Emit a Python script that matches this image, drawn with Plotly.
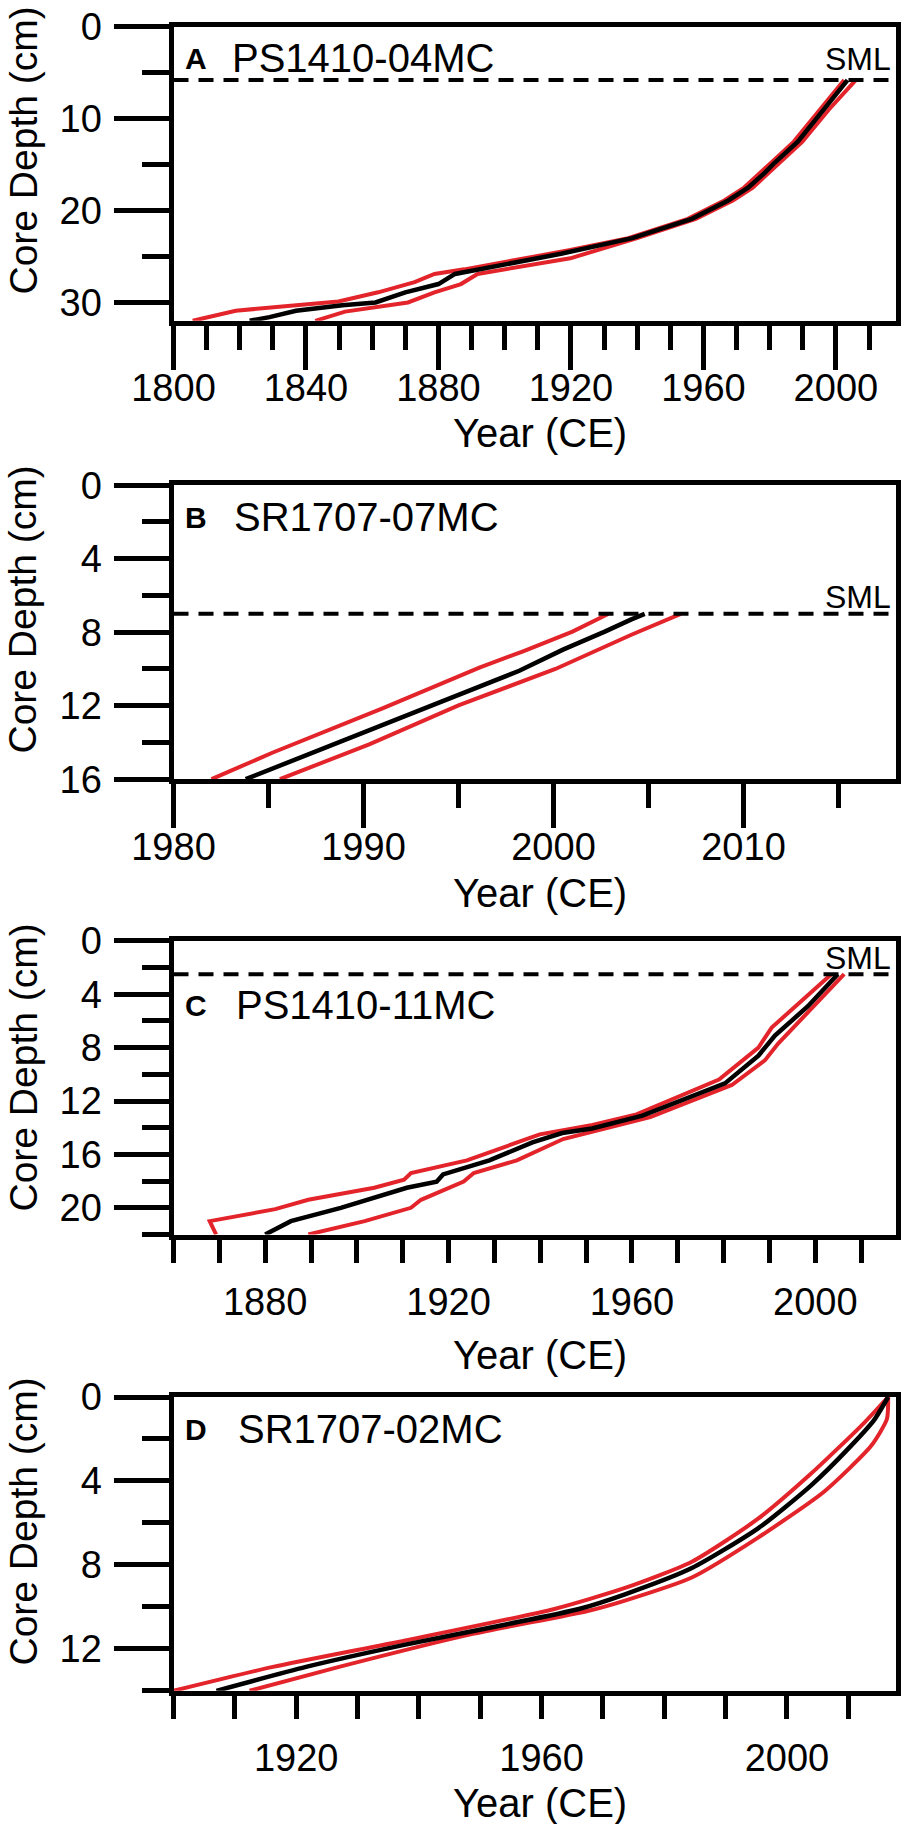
import plotly.graph_objects as go

W, H = 905, 1824

# ---------------- data (Year CE, depth cm) ----------------
A_MID_YEAR = [2003.5, 1996.5, 1988.5, 1981.5, 1978.5, 1973.5, 1967.5, 1956.5, 1938.5, 1917.0, 1895.0, 1885.0, 1880.0, 1870.0, 1861.0, 1851.0, 1837.0, 1829.0, 1823.0]
A_MID_DEPTH = [5.8, 9.0, 12.5, 14.8, 15.9, 17.5, 18.9, 20.9, 23.0, 24.7, 26.2, 26.9, 28.0, 28.9, 30.0, 30.3, 30.9, 31.6, 32.0]
A_LO_YEAR = [2002.5, 1995.3, 1987.3, 1979.8, 1972.3, 1966.3, 1955.3, 1937.3, 1919.8, 1887.8, 1878.8, 1872.8, 1861.8, 1849.8, 1818.8, 1805.8]
A_LO_DEPTH = [5.8, 9.0, 12.5, 15.0, 17.5, 18.9, 20.9, 23.0, 24.3, 26.4, 26.9, 27.8, 28.9, 29.9, 30.9, 32.0]
A_HI_YEAR = [2006.0, 1997.9, 1989.9, 1982.9, 1974.9, 1968.9, 1957.7, 1940.0, 1919.8, 1891.8, 1886.8, 1878.8, 1870.8, 1851.8, 1842.8]
A_HI_DEPTH = [5.8, 9.0, 12.5, 14.8, 17.5, 18.9, 20.9, 23.0, 25.2, 26.9, 28.0, 28.9, 30.0, 31.0, 32.0]

B_MID_YEAR = [2004.8, 2004.1, 2002.7, 2000.5, 1998.2, 1995.4, 1993.3, 1990.8, 1988.4, 1983.8]
B_MID_DEPTH = [7.0, 7.3, 7.97, 8.95, 10.1, 11.26, 12.07, 13.1, 14.1, 16.0]
B_LO_YEAR = [2002.9, 2001.0, 1998.4, 1996.1, 1991.0, 1985.2, 1982.0]
B_LO_DEPTH = [7.0, 7.97, 9.04, 9.93, 12.15, 14.56, 16.0]
B_HI_YEAR = [2006.7, 2004.1, 2000.1, 1995.0, 1990.3, 1985.6]
B_HI_DEPTH = [7.0, 8.14, 10.0, 11.98, 14.1, 16.0]

C_MID_YEAR = [2004.9, 1998.4, 1991.2, 1987.6, 1980.3, 1962.3, 1951.3, 1944.8, 1938.3, 1928.9, 1918.8, 1917.4, 1910.9, 1901.5, 1896.5, 1885.6, 1880.0]
C_MID_DEPTH = [2.5, 4.9, 7.1, 8.6, 10.68, 13.1, 14.06, 14.4, 15.1, 16.45, 17.5, 18.04, 18.5, 19.5, 20.0, 21.0, 22.0]
C_LO_YEAR = [2003.5, 1990.5, 1987.6, 1979.0, 1961.0, 1951.4, 1939.9, 1924.0, 1911.8, 1910.3, 1903.8, 1889.4, 1882.2, 1867.9, 1869.3]
C_LO_DEPTH = [2.5, 6.5, 8.0, 10.4, 13.0, 13.8, 14.5, 16.45, 17.4, 17.9, 18.5, 19.4, 20.1, 21.0, 22.0]
C_HI_YEAR = [2006.3, 1999.1, 1991.9, 1989.0, 1981.8, 1964.0, 1951.5, 1945.0, 1934.9, 1925.5, 1923.3, 1914.0, 1911.8, 1901.7, 1889.4]
C_HI_DEPTH = [2.5, 5.15, 7.7, 8.96, 10.8, 13.2, 14.24, 14.85, 16.45, 17.4, 18.04, 19.4, 20.0, 21.0, 22.0]

D_MID_YEAR = [2016.5, 2014.2, 2010.4, 2003.9, 1995.3, 1984.5, 1973.6, 1966.1, 1954.0, 1937.8, 1921.6, 1907.0]
D_MID_DEPTH = [0.0, 1.1, 2.34, 4.22, 6.26, 8.15, 9.4, 10.1, 10.85, 11.8, 12.86, 14.0]
D_LO_YEAR = [2016.5, 2012.6, 2003.9, 1995.3, 1984.5, 1973.6, 1962.1, 1937.8, 1916.2, 1900.0]
D_LO_DEPTH = [0.0, 1.23, 3.66, 5.8, 7.85, 9.1, 10.1, 11.6, 12.86, 14.0]
D_HI_YEAR = [2016.5, 2016.3, 2013.7, 2006.1, 1995.3, 1984.5, 1973.6, 1967.5, 1948.6, 1927.0, 1912.4]
D_HI_DEPTH = [0.0, 1.05, 2.34, 4.5, 6.7, 8.6, 9.7, 10.2, 11.3, 12.86, 14.0]

SML_DEPTH = {"A": 5.8, "B": 7.0, "C": 2.5}
PANEL_LETTERS = ["A", "B", "C", "D"]
CORE_NAMES = ["PS1410-04MC", "SR1707-07MC", "PS1410-11MC", "SR1707-02MC"]

A_XTICKS = [1800, 1840, 1880, 1920, 1960, 2000]
B_XTICKS = [1980, 1990, 2000, 2010]
C_XTICKS = [1880, 1920, 1960, 2000]
D_XTICKS = [1920, 1960, 2000]
A_YTICKS = [0, 10, 20, 30]
B_YTICKS = [0, 4, 8, 12, 16]
C_YTICKS = [0, 4, 8, 12, 16, 20]
D_YTICKS = [0, 4, 8, 12]

# ---------------- layout helpers ----------------
def px(x):
    return x / W

def py(y):
    return 1 - y / H

RED = "#E3242B"
FONT = "Liberation Sans, Arial, sans-serif"
LW = 5          # frame line width
HALF = LW / 2   # plotly draws the frame just outside the domain

panels = [
    dict(key="A", mid=(A_MID_YEAR, A_MID_DEPTH), lo=(A_LO_YEAR, A_LO_DEPTH), hi=(A_HI_YEAR, A_HI_DEPTH),
         xr=[1800, 2018], yr=[32, 0], top=24.3, bot=323.3, xt=A_XTICKS, xlen=44, xmd=10, xm0=1800, xmlen=24, xso=-14,
         yt=A_YTICKS, ymd=5, shape="linear"),
    dict(key="B", mid=(B_MID_YEAR, B_MID_DEPTH), lo=(B_LO_YEAR, B_LO_DEPTH), hi=(B_HI_YEAR, B_HI_DEPTH),
         xr=[1980, 2018], yr=[16, 0], top=482.7, bot=781.7, xt=B_XTICKS, xlen=44, xmd=5, xm0=1980, xmlen=24, xso=-14,
         yt=B_YTICKS, ymd=2, shape="linear"),
    dict(key="C", mid=(C_MID_YEAR, C_MID_DEPTH), lo=(C_LO_YEAR, C_LO_DEPTH), hi=(C_HI_YEAR, C_HI_DEPTH),
         xr=[1860, 2017.5], yr=[22, 0], top=938.3, bot=1237.0, xt=C_XTICKS, xlen=23, xmd=10, xm0=1860, xmlen=23, xso=7,
         yt=C_YTICKS, ymd=2, shape="linear"),
    dict(key="D", mid=(D_MID_YEAR, D_MID_DEPTH), lo=(D_LO_YEAR, D_LO_DEPTH), hi=(D_HI_YEAR, D_HI_DEPTH),
         xr=[1900, 2017.7], yr=[14, 0], top=1394.5, bot=1693.3, xt=D_XTICKS, xlen=23, xmd=10, xm0=1900, xmlen=23, xso=7,
         yt=D_YTICKS, ymd=2, shape="spline"),
]

title_y = {"A": 433, "B": 893, "C": 1355, "D": 1803}
ytitle_y = {"A": 151, "B": 610, "C": 1068, "D": 1522}
label_y = {"A": 58, "B": 517, "C": 1005, "D": 1429}
name_x = {"A": 230, "B": 232, "C": 234, "D": 236}
sml_y = {"A": 59, "B": 597, "C": 958}

fig = go.Figure()
annotations = []
shapes = []
layout = dict(width=W, height=H, autosize=False,
              margin=dict(l=0, r=0, t=0, b=0, pad=0, autoexpand=False),
              paper_bgcolor="white", plot_bgcolor="white", showlegend=False,
              font=dict(family=FONT, color="black", size=38))

X0, X1 = 171.0 + HALF, 898.0 - HALF
for i, p in enumerate(panels):
    n = "" if i == 0 else str(i + 1)
    xa, ya = "x" + n, "y" + n
    for yrs, dep in (p["lo"], p["hi"]):
        fig.add_trace(go.Scatter(x=yrs, y=dep, mode="lines", xaxis=xa, yaxis=ya,
                                 line=dict(color=RED, width=4, shape=p["shape"], smoothing=0.6), hoverinfo="skip"))
    fig.add_trace(go.Scatter(x=p["mid"][0], y=p["mid"][1], mode="lines", xaxis=xa, yaxis=ya,
                             line=dict(color="black", width=4.5, shape=p["shape"], smoothing=0.6), hoverinfo="skip"))

    layout["xaxis" + n] = dict(
        domain=[px(X0), px(X1)], anchor=ya, range=p["xr"], showgrid=False, zeroline=False,
        automargin=False,
        showline=True, linewidth=LW, linecolor="black", mirror=True,
        tickmode="array", tickvals=p["xt"], ticktext=[str(v) for v in p["xt"]],
        ticks="outside", ticklen=p["xlen"], tickwidth=5, tickcolor="black",
        ticklabelstandoff=p["xso"], tickfont=dict(size=38),
        minor=dict(ticks="outside", ticklen=p["xmlen"], tickwidth=5, tickcolor="black",
                   dtick=p["xmd"], tick0=p["xm0"], showgrid=False),
    )
    layout["yaxis" + n] = dict(
        domain=[py(p["bot"] - HALF), py(p["top"] + HALF)], anchor=xa, range=p["yr"], showgrid=False, zeroline=False,
        automargin=False,
        showline=True, linewidth=LW, linecolor="black", mirror=True,
        tickmode="array", tickvals=p["yt"], ticktext=[str(v) for v in p["yt"]],
        ticks="outside", ticklen=55, tickwidth=5, tickcolor="black", tickfont=dict(size=38),
        ticklabelstandoff=4,
        minor=dict(ticks="outside", ticklen=27, tickwidth=5, tickcolor="black",
                   dtick=p["ymd"], tick0=0, showgrid=False),
    )
    k = p["key"]
    annotations.append(dict(text="Year (CE)", xref="paper", yref="paper", x=px(540), y=py(title_y[k]),
                            xanchor="center", yanchor="middle", showarrow=False, font=dict(size=40)))
    annotations.append(dict(text="Core Depth (cm)", xref="paper", yref="paper", x=0, y=py(ytitle_y[k]),
                            textangle=-90, xanchor="left", yanchor="middle", showarrow=False,
                            borderpad=0, font=dict(size=39)))
    annotations.append(dict(text="<b>%s</b>" % PANEL_LETTERS[i], xref="paper", yref="paper", x=px(183), y=py(label_y[k]),
                            xanchor="left", yanchor="middle", showarrow=False, font=dict(size=30)))
    annotations.append(dict(text=CORE_NAMES[i], xref="paper", yref="paper", x=px(name_x[k]), y=py(label_y[k]),
                            xanchor="left", yanchor="middle", showarrow=False, font=dict(size=40)))
    if k in SML_DEPTH:
        shapes.append(dict(type="line", xref=xa + " domain", yref=ya, x0=0, x1=1,
                           y0=SML_DEPTH[k], y1=SML_DEPTH[k], line=dict(color="black", width=4, dash="15px,10px")))
        annotations.append(dict(text="SML", xref="paper", yref="paper", x=px(893), y=py(sml_y[k]),
                                xanchor="right", yanchor="middle", showarrow=False, font=dict(size=32)))

layout["annotations"] = annotations
layout["shapes"] = shapes
fig.update_layout(**layout)
fig.write_html("out.html", config={"displayModeBar": False, "staticPlot": True},
               post_script="document.body.style.margin='0';document.body.style.overflow='hidden';")
